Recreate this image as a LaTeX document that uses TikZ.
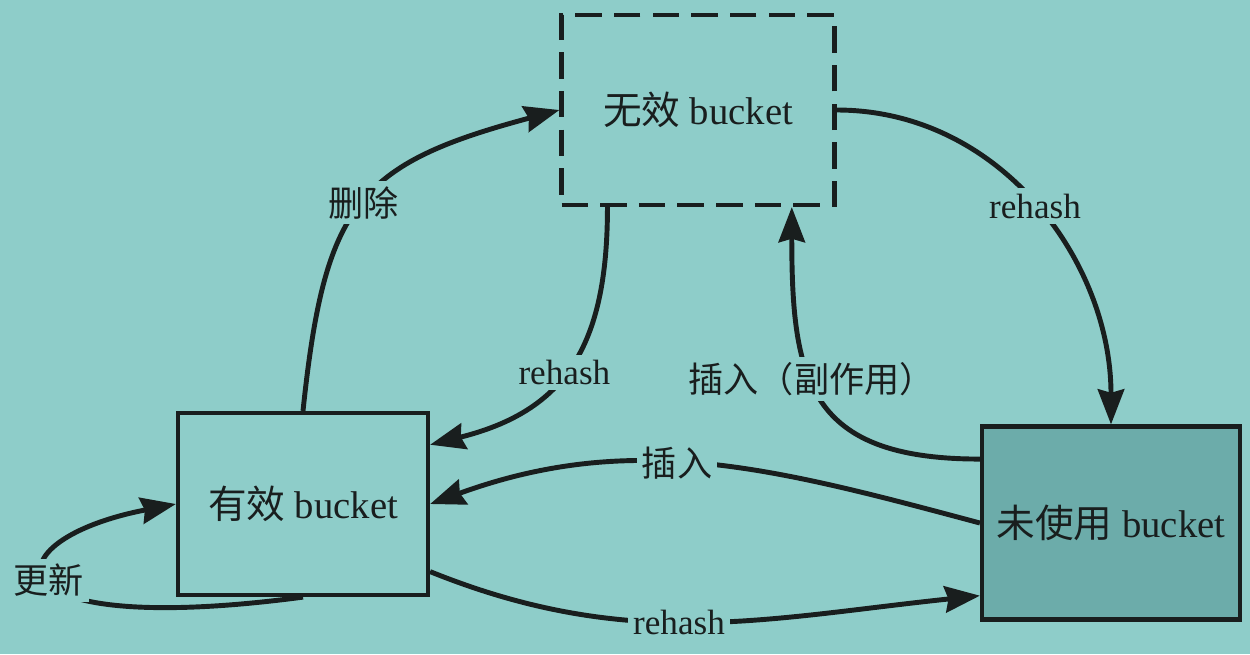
\documentclass[tikz,border=0pt]{standalone}
\usepackage{fontspec}
\setmainfont{Liberation Serif}
\newfontfamily\cjk{Noto Sans CJK SC}
\usetikzlibrary{arrows.meta}
\definecolor{paper}{RGB}{142,205,201}
\definecolor{ink}{RGB}{25,30,30}
\definecolor{unused}{RGB}{108,172,170}
\tikzset{
    bucket/.style={
      rectangle,
      draw=ink, line width=2.4pt,
      text=ink,
      font=\fontsize{22}{26}\selectfont,
      inner sep=2pt,
      text centered,
    },
    lbl/.style={
      fill=paper, text=ink,
      inner sep=3pt,
      font=\fontsize{20}{24}\selectfont,
    },
}

\begin{document}
\begin{tikzpicture}[x=0.02cm, y=-0.02cm, ->,
    >={Stealth[length=20pt,width=15pt,inset=2pt]},
    line width=2.8pt, color=ink]

    \useasboundingbox (0,0) rectangle (1250,654);
    \fill[paper] (0,0) rectangle (1250,654);

    \node[bucket,
    dash pattern=on 15pt off 7pt,
    minimum width=5.46cm, minimum height=3.8cm] (WX) at (698,110)
    {{\cjk 无效} bucket};

    \node[bucket,
    minimum width=5cm, minimum height=3.64cm] (YX) at (303,504)
    {{\cjk 有效} bucket};

    \node[bucket, fill=unused,
    minimum width=5.16cm, minimum height=3.86cm] (WSY) at (1111,523)
    {{\cjk 未使用} bucket};

    \path
    (YX.north) edge[out=84, in=195, looseness=1.35]
    node[lbl] {\cjk 删除} (WX.west)

    (WX.227) edge[out=-90, in=14, looseness=1.2]
    node[lbl, pos=.53] {rehash} (YX.25)

    (WX.east) edge[out=0, in=90]
    node[lbl] {rehash} (WSY.north)

    (WSY.154) edge[out=180, in=-90, looseness=1.4]
    node[lbl, pos=.57] {\cjk 插入（副作用）} (WX.-46)

    (WSY.west) edge[out=165, in=20]
    node[lbl, pos=.55] {\cjk 插入} (YX.east)

    (YX.-28) edge[out=-22, in=186]
    node[lbl, pos=.46] {rehash} (WSY.209);

    % self loop
    \draw (YX.south) .. controls (-20,640) and (-10,540) .. (YX.west)
    node[lbl, pos=.5] {\cjk 更新};

\end{tikzpicture}
\end{document}
